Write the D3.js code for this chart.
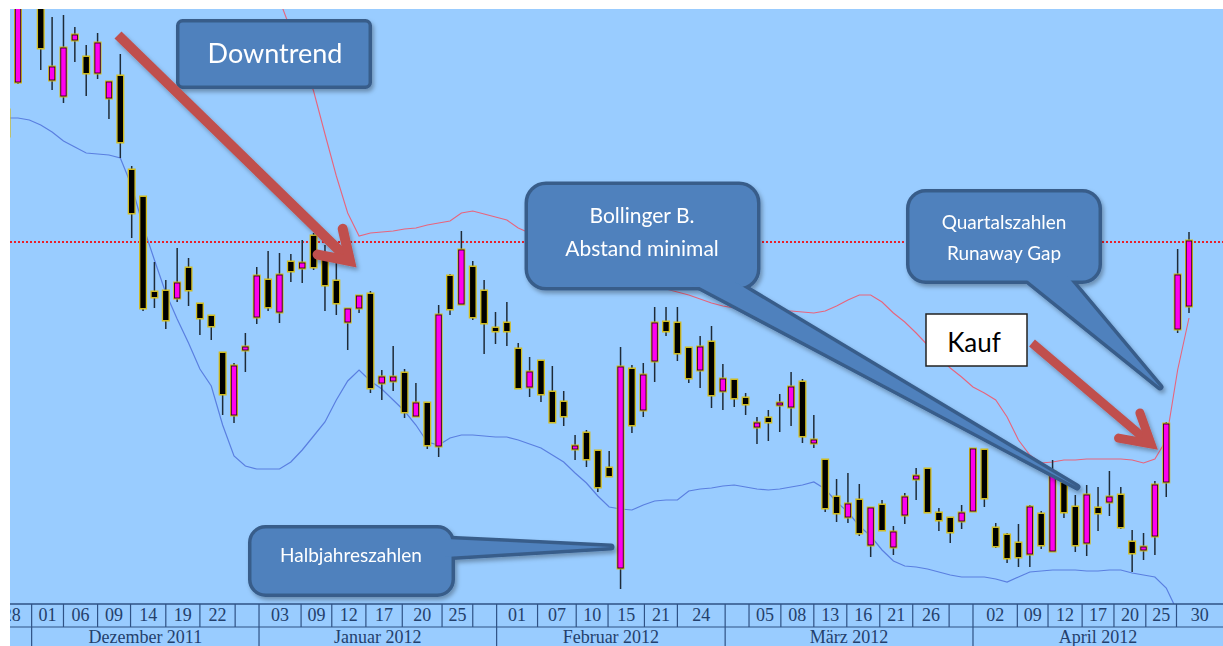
<!DOCTYPE html>
<html>
<head>
<meta charset="UTF-8" />
<title>Kerzenchart mit Bollinger-Bändern</title>
<script src="https://cdn.jsdelivr.net/npm/d3@7"></script>
<style>
  body { margin: 0; background: #fff; }
  svg { display: block; }
</style>
</head>
<body>
<div id="chart"></div>
<script>
// trading day index, 0 = first full candle on the left
const dayIdx = d3.range(-1, 104);

const opens = [
  49.0, 51.8, 66.0, 61.0, 52.0, 50.4, 56.0, 54.3, 52.7, 50.2,
  52.4, 43.0, 40.3, 30.8, 30.9, 30.2, 33.2, 29.6, 28.4, 24.7,
  18.5, 25.0, 28.3, 32.0, 28.8, 33.8, 33.2, 36.4, 34.2, 31.9,
  27.8, 29.2, 30.6, 21.7, 21.9, 22.7, 18.4, 19.7, 15.4, 32.4,
  29.6, 33.3, 30.9, 27.2, 27.7, 25.1, 21.3, 23.9, 20.8, 19.8,
  15.1, 16.7, 14.9, 13.2, 3.2, 23.1, 19.0, 23.9, 27.8, 27.7,
  25.2, 23.0, 25.8, 20.9, 22.0, 20.2, 17.3, 18.2, 19.6, 19.3,
  21.8, 15.7, 14.0, 10.3, 8.3, 10.0, 5.5, 9.5, 5.3, 8.5,
  12.1, 13.1, 8.7, 8.2, 7.9, 8.9, 15.0, 7.2, 6.5, 5.7,
  4.6, 8.6, 4.9, 11.7, 9.3, 5.7, 9.2, 9.8, 10.5, 5.8,
  5.0, 6.4, 11.8, 27.1, 29.4
];
const highs = [
  50.0, 63.0, 67.0, 62.0, 58.3, 58.5, 57.3, 55.5, 56.7, 51.8,
  54.6, 43.4, 40.3, 33.8, 32.0, 35.2, 34.2, 29.6, 28.4, 24.7,
  23.7, 26.7, 33.3, 34.9, 34.7, 34.6, 36.0, 36.7, 35.5, 33.9,
  29.1, 30.4, 30.9, 23.0, 25.4, 23.1, 21.7, 19.7, 29.5, 32.6,
  36.9, 33.9, 32.0, 28.8, 29.8, 25.7, 24.3, 23.9, 23.4, 20.9,
  16.5, 17.0, 14.9, 14.9, 25.3, 23.5, 23.7, 29.3, 29.3, 29.3,
  25.2, 26.4, 27.4, 23.6, 22.0, 20.7, 18.3, 19.0, 20.6, 22.8,
  22.1, 18.5, 14.0, 12.1, 12.7, 11.6, 9.3, 10.0, 7.4, 10.7,
  13.2, 13.2, 9.2, 8.2, 9.5, 15.1, 15.0, 7.7, 6.7, 7.6,
  9.5, 8.9, 14.0, 11.7, 10.5, 11.5, 11.3, 12.9, 11.3, 7.0,
  6.7, 11.9, 17.8, 35.1, 36.8
];
const lows = [
  45.5, 51.6, 60.5, 53.0, 51.0, 49.7, 53.8, 50.4, 52.1, 48.1,
  44.2, 36.2, 28.9, 29.2, 27.1, 29.8, 29.4, 26.5, 26.0, 18.5,
  17.7, 22.8, 27.6, 28.9, 27.7, 31.8, 31.7, 33.0, 28.9, 28.5,
  25.0, 28.7, 20.7, 20.0, 20.9, 18.2, 18.3, 15.1, 14.3, 28.5,
  29.5, 28.0, 24.6, 25.6, 25.4, 21.2, 20.3, 19.8, 17.8, 17.4,
  14.0, 13.3, 10.8, 12.4, 1.1, 16.7, 18.3, 21.8, 26.4, 23.9,
  21.7, 21.2, 19.2, 19.0, 19.3, 18.5, 15.6, 15.9, 16.8, 17.4,
  15.7, 15.2, 8.8, 7.8, 7.7, 6.4, 4.3, 7.0, 4.5, 7.6,
  10.0, 8.8, 6.9, 5.7, 7.1, 8.9, 9.3, 5.2, 3.7, 3.3,
  3.3, 5.1, 4.9, 8.2, 4.8, 4.4, 6.9, 8.4, 7.1, 2.8,
  4.0, 4.5, 10.3, 26.7, 28.7
];
const closes = [
  46.4, 62.0, 61.5, 55.2, 53.3, 55.2, 56.5, 52.7, 55.7, 51.8,
  45.8, 38.7, 29.2, 30.3, 28.0, 31.7, 31.0, 28.2, 27.4, 20.6,
  23.4, 25.3, 32.4, 29.3, 32.5, 32.9, 33.7, 33.3, 31.5, 29.7,
  29.1, 30.4, 21.2, 22.3, 22.3, 18.8, 19.7, 15.5, 28.5, 29.1,
  35.0, 28.3, 27.7, 26.9, 26.9, 21.2, 22.8, 20.6, 17.8, 18.4,
  15.4, 14.1, 11.3, 12.4, 23.3, 17.5, 22.5, 27.7, 26.9, 24.7,
  22.2, 25.3, 20.5, 22.1, 20.2, 19.6, 17.7, 17.8, 19.7, 21.3,
  16.4, 16.0, 9.2, 8.7, 9.6, 6.7, 9.2, 7.0, 6.8, 10.3,
  12.4, 8.8, 8.0, 6.8, 8.7, 15.1, 10.2, 5.4, 4.2, 4.3,
  9.3, 5.5, 12.8, 8.8, 5.5, 10.5, 8.7, 10.3, 7.3, 4.7,
  5.3, 11.5, 17.6, 32.5, 35.9
];

// Bollinger bands (upper band runs above the visible area on the left)
const upperBand = [
  null, null, null, null, null, null, null, null, null, null,
  null, null, null, null, null, null, null, null, null, null,
  null, null, null, 63.1, 60.0, 57.0, 54.0, 50.9, 46.6, 42.4,
  38.7, 36.4, 36.7, 36.8, 36.9, 37.1, 37.2, 37.5, 37.7, 37.9,
  38.7, 38.9, 38.6, 38.3, 38.0, 37.2, 36.7, 36.2, 35.7, 35.2,
  34.6, 34.0, 33.4, 32.9, 32.5, 32.1, 31.8, 31.5, 31.1, 30.8,
  30.5, 30.1, 29.7, 29.4, 29.2, 29.0, 28.9, 28.9, 28.9, 28.9,
  28.8, 28.7, 28.9, 29.4, 30.0, 30.5, 30.5, 29.8, 28.7, 27.8,
  26.7, 25.5, 24.3, 23.2, 22.3, 21.3, 20.7, 20.0, 18.3, 16.0,
  14.5, 13.7, 13.8, 14.0, 14.0, 14.1, 14.1, 14.1, 14.1, 14.0,
  13.7, 14.1, 16.0, 23.0, 28.2
];
const lowerBand = [
  48.2, 48.2, 48.0, 47.5, 46.8, 45.9, 45.3, 44.7, 44.6, 44.5,
  44.2, 41.4, 37.4, 34.0, 30.7, 28.1, 25.7, 23.1, 21.4, 17.5,
  14.4, 13.4, 13.1, 13.1, 13.1, 13.8, 15.0, 16.4, 17.8, 20.0,
  21.9, 23.0, 21.9, 21.1, 20.0, 18.9, 17.5, 15.8, 15.5, 16.2,
  16.5, 16.5, 16.4, 16.3, 16.3, 16.0, 15.6, 15.2, 14.5, 13.8,
  12.7, 11.7, 10.4, 9.3, 9.1, 9.0, 9.5, 9.9, 10.0, 10.0,
  10.9, 11.1, 11.2, 11.4, 11.5, 11.3, 11.1, 11.0, 11.1, 11.3,
  11.5, 11.8, 11.1, 9.8, 8.8, 7.4, 6.4, 5.0, 3.9, 3.4,
  3.3, 3.1, 2.8, 2.5, 2.3, 2.3, 2.3, 2.1, 1.8, 2.3,
  2.8, 2.9, 3.0, 3.0, 3.0, 2.9, 2.9, 3.0, 3.0, 2.7,
  2.5, 2.3, 1.2, -1.2, -4.0
];

const resistance = 35.8;

// date axis: upper row (days), lower row (months), start positions in trading days
const dayTicks = ["28", "01", "06", "09", "14", "19", "22", "",
  "03", "09", "12", "17", "20", "25", "",
  "01", "07", "10", "15", "21", "24", "",
  "05", "08", "13", "16", "21", "26", "",
  "02", "09", "12", "17", "20", "25", "30"];
const dayTickStart = [-2.3, 1.2, 4.0, 7.0, 9.9, 13.0, 16.0, 19.1,
  21.2, 24.9, 27.6, 30.6, 33.8, 37.3, 40.0,
  42.1, 45.7, 49.1, 51.9, 55.1, 58.0, 62.2,
  64.3, 67.1, 70.0, 72.9, 75.8, 78.7, 81.9,
  84.0, 87.9, 90.6, 93.6, 96.4, 99.2, 101.9];
const months = ["", "Dezember 2011", "Januar 2012", "Februar 2012", "März 2012", "April 2012"];
const monthStart = [-2.3, 1.2, 21.2, 42.1, 62.2, 84.0];
const axisEnd = 106;

const w = 1223, h = 646;
const plotLeft = 10, plotTop = 9, axisTop = 604, axisMid = 627;

const x = d3.scaleLinear().domain([0, 103]).range([18, 1189]);
const y = d3.scaleLinear().domain([0, 60]).range([600, 0]);

const svg = d3.select('#chart')
  .append('svg')
  .attr('width', w)
  .attr('height', h);

const defs = svg.append('defs');
defs.append('clipPath').attr('id', 'plotClip')
  .append('rect')
  .attr('x', plotLeft).attr('y', plotTop)
  .attr('width', w - plotLeft).attr('height', axisTop - plotTop);
defs.append('clipPath').attr('id', 'axisClip')
  .append('rect')
  .attr('x', plotLeft).attr('y', axisTop - 1)
  .attr('width', w - plotLeft).attr('height', h - axisTop + 1);
defs.append('filter').attr('id', 'shadow')
  .attr('x', '-20%').attr('y', '-20%').attr('width', '140%').attr('height', '140%')
  .append('feDropShadow')
  .attr('dx', 2).attr('dy', 3).attr('stdDeviation', 2)
  .attr('flood-color', '#000').attr('flood-opacity', 0.3);

svg.append('rect').attr('width', w).attr('height', h).attr('fill', '#fff');
svg.append('rect')
  .attr('x', plotLeft).attr('y', plotTop)
  .attr('width', w - plotLeft).attr('height', h - plotTop)
  .attr('fill', '#99ccff');

const plot = svg.append('g').attr('clip-path', 'url(#plotClip)');

// bands
const bandLine = d3.line()
  .defined(d => d[1] != null)
  .x(d => x(d[0]))
  .y(d => y(d[1]));

plot.append('path')
  .datum(dayIdx.map((d, i) => [d, upperBand[i]]))
  .attr('d', bandLine)
  .attr('fill', 'none')
  .attr('stroke', '#e8647c')
  .attr('stroke-width', 1.1);

plot.append('path')
  .datum(dayIdx.map((d, i) => [d, lowerBand[i]]))
  .attr('d', bandLine)
  .attr('fill', 'none')
  .attr('stroke', '#5a7fe0')
  .attr('stroke-width', 1.2);

plot.append('line')
  .attr('x1', plotLeft).attr('x2', w)
  .attr('y1', y(resistance)).attr('y2', y(resistance))
  .attr('stroke', '#e8202a')
  .attr('stroke-width', 2.2)
  .attr('stroke-dasharray', '2,2');

// candles
const candles = dayIdx.map((d, i) => ({
  d: d, o: opens[i], h: highs[i], l: lows[i], c: closes[i]
}));

const cg = plot.selectAll('g.candle')
  .data(candles)
  .enter()
  .append('g')
  .attr('class', 'candle');

cg.append('line')
  .attr('x1', d => x(d.d)).attr('x2', d => x(d.d))
  .attr('y1', d => y(d.h)).attr('y2', d => y(d.l))
  .attr('stroke', '#1e2b38')
  .attr('stroke-width', 1.5);

const bodyTop = d => y(Math.max(d.o, d.c));
const bodyH = d => Math.max(2, y(Math.min(d.o, d.c)) - y(Math.max(d.o, d.c)));

cg.append('rect')
  .attr('x', d => x(d.d) - 4)
  .attr('y', d => bodyTop(d) - 1.5)
  .attr('width', 8)
  .attr('height', d => bodyH(d) + 3)
  .attr('fill', '#d2bc1e');

cg.append('rect')
  .attr('x', d => x(d.d) - 2.7)
  .attr('y', d => bodyTop(d))
  .attr('width', 5.4)
  .attr('height', d => bodyH(d))
  .attr('fill', d => d.c >= d.o ? '#ff00ee' : '#000')
  .attr('stroke', d => d.c >= d.o ? '#2a0022' : 'none')
  .attr('stroke-width', 0.9);

// date axis
const axis = svg.append('g').attr('clip-path', 'url(#axisClip)');
const lineCol = '#2f5285';
const textCol = '#23406c';

axis.append('line')
  .attr('x1', plotLeft).attr('x2', w)
  .attr('y1', axisTop).attr('y2', axisTop)
  .attr('stroke', lineCol).attr('stroke-width', 1.6);
axis.append('line')
  .attr('x1', plotLeft).attr('x2', w)
  .attr('y1', axisMid).attr('y2', axisMid)
  .attr('stroke', lineCol).attr('stroke-width', 1.2);

const dayCells = dayTicks.map((t, i) => ({
  t: t, a: dayTickStart[i], b: i < dayTicks.length - 1 ? dayTickStart[i + 1] : axisEnd
}));
axis.selectAll('line.dtick')
  .data(dayCells)
  .enter()
  .append('line')
  .attr('class', 'dtick')
  .attr('x1', d => x(d.a)).attr('x2', d => x(d.a))
  .attr('y1', axisTop).attr('y2', axisMid)
  .attr('stroke', lineCol).attr('stroke-width', 1.2);
axis.selectAll('text.dlab')
  .data(dayCells)
  .enter()
  .append('text')
  .attr('class', 'dlab')
  .attr('x', d => (x(d.a) + x(d.b)) / 2)
  .attr('y', axisTop + 17)
  .attr('text-anchor', 'middle')
  .attr('font-family', '"Liberation Serif", "DejaVu Serif", serif')
  .attr('font-size', 18)
  .attr('fill', textCol)
  .text(d => d.t);

const monthCells = months.map((t, i) => ({
  t: t, a: monthStart[i], b: i < months.length - 1 ? monthStart[i + 1] : axisEnd
}));
axis.selectAll('line.mtick')
  .data(monthCells)
  .enter()
  .append('line')
  .attr('class', 'mtick')
  .attr('x1', d => x(d.a)).attr('x2', d => x(d.a))
  .attr('y1', axisMid).attr('y2', h)
  .attr('stroke', lineCol).attr('stroke-width', 1.2);
axis.selectAll('text.mlab')
  .data(monthCells)
  .enter()
  .append('text')
  .attr('class', 'mlab')
  .attr('x', d => (x(d.a) + x(d.b)) / 2)
  .attr('y', axisMid + 16)
  .attr('text-anchor', 'middle')
  .attr('font-family', '"Liberation Serif", "DejaVu Serif", serif')
  .attr('font-size', 18)
  .attr('fill', textCol)
  .text(d => d.t);

// annotations
const ann = svg.append('g');
const calloutFill = '#4f81bd';
const calloutEdge = '#385d8a';

function callout(box, pointer, lines, size) {
  const g = ann.append('g').attr('filter', 'url(#shadow)');
  // border pass, then fill pass so the pointer merges into the box
  [[calloutEdge, 7], [calloutFill, 0]].forEach(([col, sw]) => {
    g.append('rect')
      .attr('x', box[0]).attr('y', box[1])
      .attr('width', box[2]).attr('height', box[3])
      .attr('rx', box[4])
      .attr('fill', calloutFill)
      .attr('stroke', sw ? col : 'none')
      .attr('stroke-width', sw)
      .attr('stroke-linejoin', 'round');
    if (pointer) {
      g.append('path')
        .attr('d', d3.line()(pointer) + 'Z')
        .attr('fill', calloutFill)
        .attr('stroke', sw ? col : 'none')
        .attr('stroke-width', sw)
        .attr('stroke-linejoin', 'round');
    }
  });
  lines.forEach(l => {
    g.append('text')
      .attr('x', l[0]).attr('y', l[1])
      .attr('text-anchor', 'middle')
      .attr('font-family', 'Lato, "Open Sans", sans-serif')
      .attr('font-size', size)
      .attr('fill', '#fff')
      .text(l[2]);
  });
}

function arrow(x1, y1, x2, y2, sw, len, ang) {
  const g = ann.append('g').attr('filter', 'url(#shadow)');
  const a = Math.atan2(y2 - y1, x2 - x1) + Math.PI;
  const r = ang * Math.PI / 180;
  const p1 = [x2 + len * Math.cos(a - r), y2 + len * Math.sin(a - r)];
  const p2 = [x2 + len * Math.cos(a + r), y2 + len * Math.sin(a + r)];
  g.append('line')
    .attr('x1', x1).attr('y1', y1)
    .attr('x2', x2 - 3 * Math.cos(a + Math.PI)).attr('y2', y2 - 3 * Math.sin(a + Math.PI))
    .attr('stroke', '#c0504d').attr('stroke-width', sw);
  g.append('path')
    .attr('d', d3.line()([p1, [x2, y2], p2]))
    .attr('fill', 'none')
    .attr('stroke', '#c0504d').attr('stroke-width', sw)
    .attr('stroke-linejoin', 'miter')
    .attr('stroke-linecap', 'round');
}

callout([179.5, 22.5, 189, 63, 3], null, [[275, 63, 'Downtrend']], 27);
arrow(118, 35, 350, 261, 10, 33, 33);

callout([528, 185, 229, 102, 18], [[690, 282], [735, 282], [1077, 487]],
  [[642, 223, 'Bollinger B.'], [642, 256, 'Abstand minimal']], 21);

callout([909.5, 192.5, 189, 88, 16], [[1022, 276], [1067, 276], [1160, 387]],
  [[1004, 229, 'Quartalszahlen'], [1004, 260, 'Runaway Gap']], 19);

callout([251.5, 528.5, 200, 65, 14], [[445, 539], [611, 547], [445, 557]],
  [[351, 562, 'Halbjahreszahlen']], 19);

ann.append('rect')
  .attr('x', 926).attr('y', 314)
  .attr('width', 101).attr('height', 52)
  .attr('fill', '#fff')
  .attr('stroke', '#222')
  .attr('stroke-width', 1.5);
ann.append('text')
  .attr('x', 974).attr('y', 352)
  .attr('text-anchor', 'middle')
  .attr('font-family', 'Lato, "Open Sans", sans-serif')
  .attr('font-size', 26)
  .attr('fill', '#000')
  .text('Kauf');
arrow(1032, 343, 1151, 444, 9, 33, 30);
</script>
</body>
</html>
